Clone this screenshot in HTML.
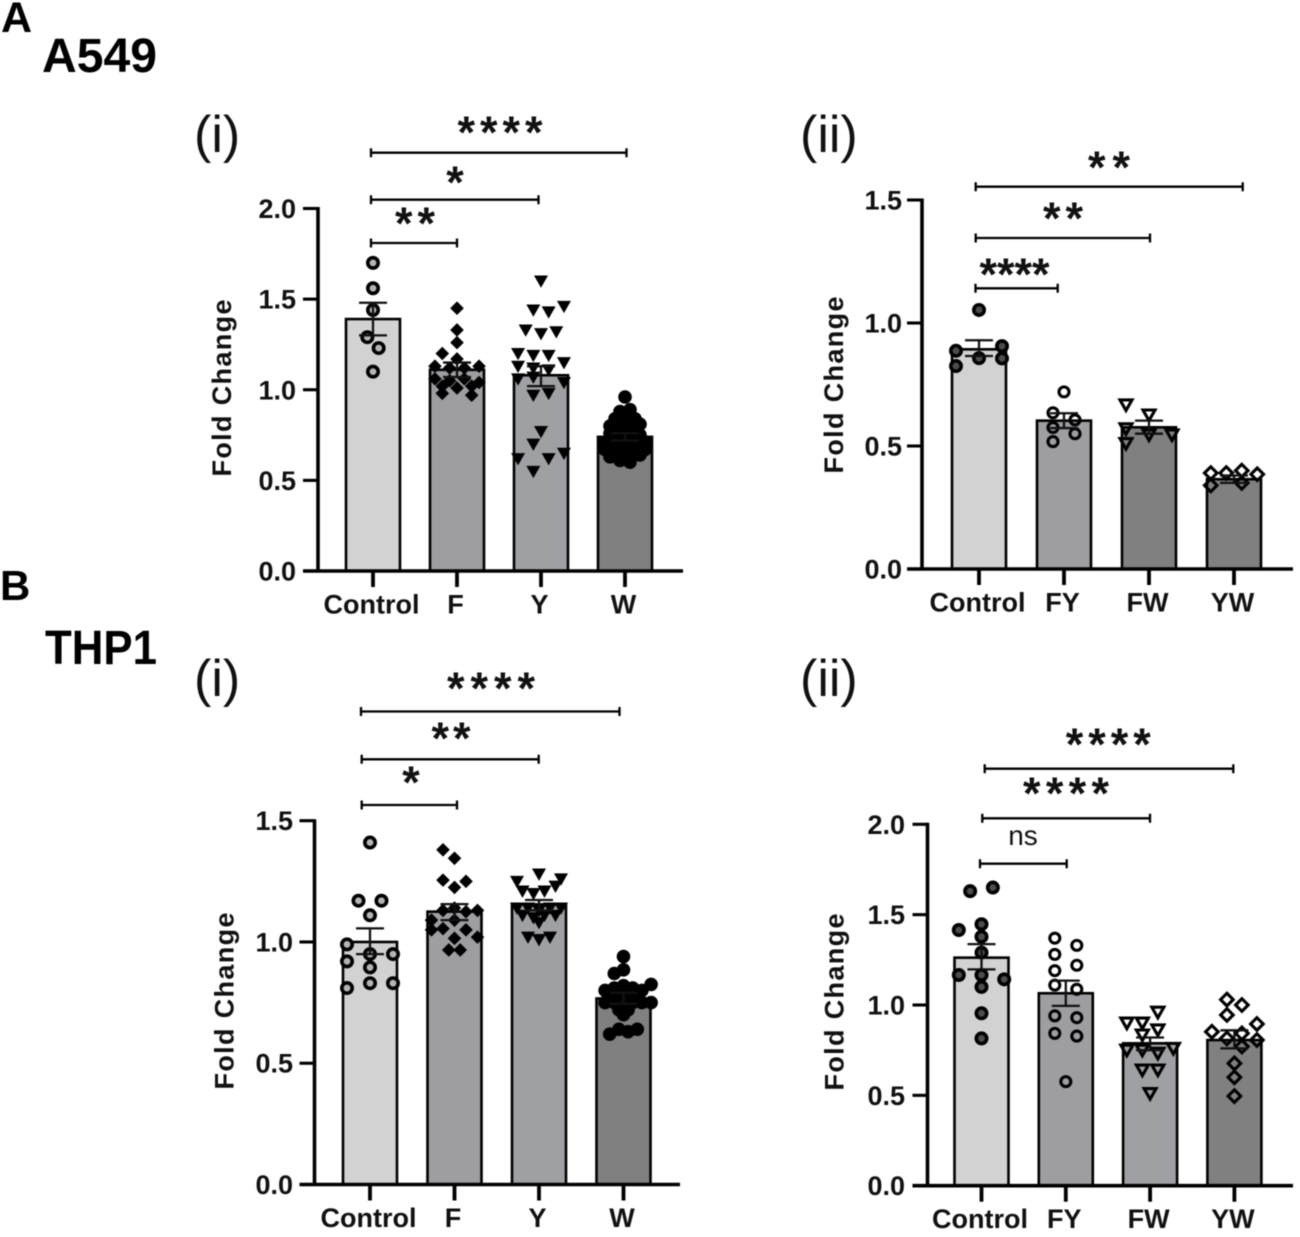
<!DOCTYPE html>
<html lang="en">
<head>
<meta charset="utf-8">
<title>Fold change in A549 and THP1 cells</title>
<style>
html,body{margin:0;padding:0;background:#fff;}
#figure{display:block;width:1300px;height:1237px;filter:blur(0.55px);font-family:"Liberation Sans",sans-serif;}
</style>
</head>
<body>
<svg id="figure" xmlns="http://www.w3.org/2000/svg" width="1300" height="1237" viewBox="0 0 1300 1237">
  <rect x="0" y="0" width="1300" height="1237" fill="#fff"/>
  <text x="1" y="32" font-size="43" font-weight="700" fill="#000">A</text>
  <text x="42" y="72" font-size="48" font-weight="700" fill="#000" textLength="115" lengthAdjust="spacingAndGlyphs">A549</text>
  <text x="0" y="600" font-size="42" font-weight="700" fill="#000">B</text>
  <text x="45" y="664" font-size="48" font-weight="700" fill="#000" textLength="112" lengthAdjust="spacingAndGlyphs">THP1</text>
  <text x="194" y="152" font-size="52" fill="#111">(i)</text>
  <text x="800" y="152" font-size="52" fill="#111">(ii)</text>
  <text x="194" y="696" font-size="52" fill="#111">(i)</text>
  <text x="800" y="696" font-size="52" fill="#111">(ii)</text>
</svg>
<script>
// ---------- A549 (i) ----------
const a1Categories = ['Control', 'F', 'Y', 'W'];
const a1YTicks = [0, 0.5, 1, 1.5, 2];
const a1YTickLabels = ['0.0', '0.5', '1.0', '1.5', '2.0'];
const a1Means = [1.39, 1.11, 1.08, 0.74];
const a1ErrHigh = [1.48, 1.15, 1.13, 0.76];
const a1ErrLow = [1.30, 1.07, 1.02, 0.72];
// Replicates: each inner array is one swarm row, read left to right (null = empty slot)
const a1Control = [[1.70], [1.56], [1.44], [1.29, 1.23], [1.10]];
const a1F = [[1.45], [1.33], [1.26], [1.20, 1.17, null], [1.13, 1.12, 1.12, 1.13], [1.06, 1.05, 1.06, 1.04], [1.02, 1.01, 1.02], [0.98, null, 0.97]];
const a1Y = [[1.60], [null, 1.44, 1.43, 1.46], [1.33, 1.31, 1.32], [1.20, 1.19, 1.19, null], [1.13, 1.12, 1.11, 1.15], [1.06, 1.07, null, 1.04], [null, 0.97, 0.98, null], [0.77], [0.70, null], [0.62, null, 0.62, 0.65], [0.55, null]];
const a1W = [[0.96], [0.88, 0.89], [0.84, 0.85, 0.84], [0.80, 0.81, 0.80, 0.81], [0.76, 0.75, 0.76, 0.75], [0.71, 0.72, 0.71, 0.72, 0.71], [0.67, 0.68, 0.67, 0.66, 0.67], [0.63, 0.62, 0.63, 0.64], [0.61, 0.60]];

// ---------- A549 (ii) ----------
const a2Categories = ['Control', 'FY', 'FW', 'YW'];
const a2YTicks = [0, 0.5, 1, 1.5];
const a2YTickLabels = ['0.0', '0.5', '1.0', '1.5'];
const a2Means = [0.893, 0.603, 0.576, 0.365];
const a2ErrHigh = [0.93, 0.633, 0.603, 0.38];
const a2ErrLow = [0.866, 0.573, 0.55, 0.35];
const a2Control = [[1.053], [0.887, null, 0.906], [null, 0.857, 0.856], [0.825, null, null]];
const a2FY = [[0.72], [0.635, 0.606], [0.575, 0.55], [0.518, null]];
const a2FW = [[0.667, null, null], [null, 0.626, null], [0.57, null, null], [null, 0.545, 0.545], [0.51, null, null]];
const a2YW = [[0.39, 0.39, 0.40, 0.385], [0.34, null, 0.35, null]];

// ---------- THP1 (i) ----------
const b1Categories = ['Control', 'F', 'Y', 'W'];
const b1YTicks = [0, 0.5, 1, 1.5];
const b1YTickLabels = ['0.0', '0.5', '1.0', '1.5'];
const b1Means = [1.0, 1.125, 1.155, 0.767];
const b1ErrHigh = [1.056, 1.156, 1.173, 0.79];
const b1ErrLow = [0.95, 1.09, 1.13, 0.745];
const b1Control = [[1.41], [1.17, 1.17], [1.11], [0.99, null, null], [null, 0.95, 0.95], [0.92, 0.895, null], [0.81, 0.83, 0.83]];
const b1F = [[1.38, null, null], [1.345], [1.255, null, 1.25], [1.225], [1.14], [null, 1.13, null, 1.125, 1.13], [1.09, null, 1.09, null, null], [1.05, 1.055, null, 1.05, null], [null, null, 1.015, null, 1.02], [0.967, 0.967]];
const b1Y = [[1.28], [1.25, null, null, null, 1.26], [1.21, 1.20, 1.21, 1.23], [1.14, 1.14, 1.13, 1.14, 1.14], [1.11, 1.10, 1.11, 1.11], [1.08], [1.02, 1.01, 1.02]];
const b1W = [[0.94], [0.87, 0.885, null], [null, 0.80, 0.81, 0.82, 0.81, 0.80, 0.825], [0.78, 0.78, 0.78], [null, 0.75, 0.75, 0.75, 0.75, 0.75, 0.75], [0.72, 0.72], [0.70], [0.62, 0.64, 0.63, 0.64]];

// ---------- THP1 (ii) ----------
const b2Categories = ['Control', 'FY', 'FW', 'YW'];
const b2YTicks = [0, 0.5, 1, 1.5, 2];
const b2YTickLabels = ['0.0', '0.5', '1.0', '1.5', '2.0'];
const b2Means = [1.262, 1.065, 0.788, 0.806];
const b2ErrHigh = [1.337, 1.135, 0.82, 0.86];
const b2ErrLow = [1.197, 0.995, 0.75, 0.76];
const b2Control = [[1.63, 1.65], [1.447], [1.415, null, null], [1.378], [1.29], [1.166, 1.166, 1.142], [1.10], [0.954], [0.815]];
const b2FY = [[1.37, 1.33], [1.28, 1.22], [1.19, null], [1.11, 1.087], [0.94, 0.93], [0.843, 0.828], [0.576]];
const b2FW = [[null, null, 0.96, null], [0.90, 0.90, null, null], [null, null, 0.862, null], [null, 0.834, null, null], [0.75, 0.75, 0.733, 0.76], [null, 0.64, 0.64, null], [0.51]];
const b2YW = [[null, 1.03, 1.0, null], [null, 0.945, null, null], [null, null, null, 0.895], [0.852, null, 0.843, null], [null, 0.815, null, 0.806], [null, null, 0.77, null], [0.677], [0.60], [0.496]];

// ---------- Panel layout (geometry and styling, separate from data) ----------
const panels = [
  { id: 'a-i', cats: a1Categories, ticks: a1YTicks, tickLabels: a1YTickLabels, means: a1Means, hi: a1ErrHigh, lo: a1ErrLow,
    series: [a1Control, a1F, a1Y, a1W], yMax: 2, axisX: 318, yZero: 571, yTop: 208.5, axisRight: 683, x0: 373, step: 84, labelEnd: 296, titleX: 231, titleY: 388,
    gaps: [11.3, 14.7, 15.3, 10], fills: ['#d2d2d2', '#9d9da2', '#9fa0a4', '#808080'],
    markers: ['circle-light', 'diamond-solid', 'tri-solid', 'circle-solid'],
    brackets: [{ a: 371, b: 626.5, y: 152.7, t: '****', cx: 500, cy: 127, w: 85 }, { a: 371, b: 538.5, y: 199.7, t: '*', cx: 455, cy: 177, w: 0 }, { a: 371, b: 457, y: 243, t: '**', cx: 415, cy: 218, w: 40 }] },
  { id: 'a-ii', cats: a2Categories, ticks: a2YTicks, tickLabels: a2YTickLabels, means: a2Means, hi: a2ErrHigh, lo: a2ErrLow,
    series: [a2Control, a2FY, a2FW, a2YW], yMax: 1.5, axisX: 922, yZero: 569, yTop: 200, axisRight: 1293, x0: 979, step: 85, labelEnd: 902, titleX: 843, titleY: 385,
    gaps: [23, 22, 23, 15.5], fills: ['#d2d2d2', '#9d9da2', '#808080', '#808080'],
    markers: ['circle-dark', 'circle-open', 'tri-open', 'diamond-open'],
    brackets: [{ a: 975.7, b: 1242.7, y: 186.7, t: '**', cx: 1109, cy: 162, w: 42 }, { a: 975.7, b: 1150, y: 238, t: '**', cx: 1063, cy: 213, w: 40 }, { a: 975.5, b: 1057.7, y: 288.3, t: '****', cx: 1014.5, cy: 269, w: 70 }] },
  { id: 'b-i', cats: b1Categories, ticks: b1YTicks, tickLabels: b1YTickLabels, means: b1Means, hi: b1ErrHigh, lo: b1ErrLow,
    series: [b1Control, b1F, b1Y, b1W], yMax: 1.5, axisX: 314.5, yZero: 1184.5, yTop: 820.7, axisRight: 680, x0: 370, step: 84.5, labelEnd: 293, titleX: 233.5, titleY: 1001,
    gaps: [23, 11.5, 11, 9.2], fills: ['#d2d2d2', '#9d9da2', '#9fa0a4', '#808080'],
    markers: ['circle-light', 'diamond-solid', 'tri-solid', 'circle-solid'],
    brackets: [{ a: 361, b: 619.5, y: 711.5, t: '****', cx: 491, cy: 683, w: 88 }, { a: 361.7, b: 538.7, y: 759.3, t: '**', cx: 451, cy: 733, w: 39 }, { a: 361.7, b: 457, y: 805, t: '*', cx: 411, cy: 777, w: 0 }] },
  { id: 'b-ii', cats: b2Categories, ticks: b2YTicks, tickLabels: b2YTickLabels, means: b2Means, hi: b2ErrHigh, lo: b2ErrLow,
    series: [b2Control, b2FY, b2FW, b2YW], yMax: 2, axisX: 927.5, yZero: 1185.7, yTop: 824.3, axisRight: 1293, x0: 981.5, step: 84.3, labelEnd: 905, titleX: 843.5, titleY: 1002,
    gaps: [22.7, 22, 15.5, 15], fills: ['#d2d2d2', '#9d9da2', '#9fa0a4', '#808080'],
    markers: ['circle-dark', 'circle-open', 'tri-open', 'diamond-open'],
    brackets: [{ a: 984.7, b: 1233.3, y: 768.7, t: '****', cx: 1108.3, cy: 739, w: 85 }, { a: 982.3, b: 1150, y: 818.3, t: '****', cx: 1066, cy: 788, w: 86 }, { a: 980, b: 1066.7, y: 863.7, t: 'ns', cx: 1023, cy: 845, w: 0 }] }
];

const NS = 'http://www.w3.org/2000/svg';
const root = document.getElementById('figure');

function mk(tag, attrs, parent, text) {
  const el = document.createElementNS(NS, tag);
  for (const k in attrs) el.setAttribute(k, attrs[k]);
  if (text !== undefined) el.textContent = text;
  parent.appendChild(el);
  return el;
}

function drawMarker(kind, x, y, parent) {
  if (kind === 'circle-light' || kind === 'circle-dark') {
    return mk('circle', { cx: x, cy: y, r: 5.2, fill: kind === 'circle-light' ? '#b4b4b4' : '#4c4c4c', stroke: '#000', 'stroke-width': 3.6 }, parent);
  }
  if (kind === 'circle-solid') return mk('circle', { cx: x, cy: y, r: 6.8, fill: '#000' }, parent);
  if (kind === 'circle-open') return mk('circle', { cx: x, cy: y, r: 5, fill: 'none', stroke: '#000', 'stroke-width': 3.1 }, parent);
  if (kind === 'diamond-solid') return mk('path', { d: `M${x} ${y - 6.8}L${x + 6.8} ${y}L${x} ${y + 6.8}L${x - 6.8} ${y}Z`, fill: '#000' }, parent);
  if (kind === 'diamond-open') return mk('path', { d: `M${x} ${y - 6.3}L${x + 6.3} ${y}L${x} ${y + 6.3}L${x - 6.3} ${y}Z`, fill: 'none', stroke: '#000', 'stroke-width': 3.1 }, parent);
  if (kind === 'tri-solid') return mk('path', { d: `M${x - 7} ${y - 5.5}L${x + 7} ${y - 5.5}L${x} ${y + 6.8}Z`, fill: '#000' }, parent);
  return mk('path', { d: `M${x - 6} ${y - 5}L${x + 6} ${y - 5}L${x} ${y + 5.6}Z`, fill: 'none', stroke: '#000', 'stroke-width': 3.1 }, parent);
}

panels.forEach(function (p) {
  const g = mk('g', {}, root);
  
  

  const yScale = function (v) { return p.yZero - (v / p.yMax) * (p.yZero - p.yTop); };
  const xScale = function (i) { return p.x0 + i * p.step; };
  const barW = 54;

  // Bars
  p.means.forEach(function (m, i) {
    const bar = mk('rect', { x: xScale(i) - barW / 2, y: yScale(m), width: barW, height: p.yZero - yScale(m), fill: p.fills[i], stroke: '#000', 'stroke-width': 2.6 }, g);
    
    
  });

  // Replicate points, spread across swarm rows
  p.series.forEach(function (rows, i) {
    const group = mk('g', {}, g);
    
    
    rows.forEach(function (row) {
      row.forEach(function (v, slot) {
        if (v === null) return;
        const x = xScale(i) + (slot - (row.length - 1) / 2) * p.gaps[i];
        const pt = drawMarker(p.markers[i], x, yScale(v), group);
        
        
      });
    });
  });

  // Error bars
  p.means.forEach(function (m, i) {
    const x = xScale(i);
    const err = mk('path', { d: `M${x} ${yScale(p.hi[i])}V${yScale(p.lo[i])}M${x - 14} ${yScale(p.hi[i])}H${x + 14}M${x - 14} ${yScale(p.lo[i])}H${x + 14}`, fill: 'none', stroke: '#111', 'stroke-width': 2.3 }, g);
    
    
  });

  // Axes
  const yAxis = mk('line', { x1: p.axisX, x2: p.axisX, y1: p.yTop - 1.5, y2: p.yZero + 1.5, stroke: '#000', 'stroke-width': 3.6 }, g);
  
  
  const xAxis = mk('line', { x1: p.axisX - 15, x2: p.axisRight, y1: p.yZero, y2: p.yZero, stroke: '#000', 'stroke-width': 3.6 }, g);
  
  

  p.ticks.forEach(function (t, i) {
    const tick = mk('line', { x1: p.axisX - 15, x2: p.axisX, y1: yScale(t), y2: yScale(t), stroke: '#000', 'stroke-width': 3.1 }, g);
    
    
    const lab = mk('text', { x: p.labelEnd, y: yScale(t) + 9.5, 'text-anchor': 'end', 'font-size': 27, 'font-weight': 700, fill: '#111' }, g, p.tickLabels[i]);
    
    
  });

  p.cats.forEach(function (c, i) {
    const tick = mk('line', { x1: xScale(i), x2: xScale(i), y1: p.yZero, y2: p.yZero + 16, stroke: '#000', 'stroke-width': 3.8 }, g);
    
    
    const lab = mk('text', { x: xScale(i) - 1.5, y: p.yZero + 42.5, 'text-anchor': 'middle', 'font-size': 27, 'font-weight': 700, fill: '#111' }, g, c);
    
    
  });

  const title = mk('text', { x: 0, y: 0, transform: `translate(${p.titleX} ${p.titleY}) rotate(-90)`, 'text-anchor': 'middle', 'font-size': 27, 'font-weight': 700, fill: '#111', textLength: 177, lengthAdjust: 'spacing' }, g, 'Fold Change');
  
  

  // Significance brackets
  p.brackets.forEach(function (b) {
    const br = mk('path', { d: `M${b.a} ${b.y - 4.5}V${b.y + 4.5}M${b.a} ${b.y}H${b.b}M${b.b} ${b.y - 4.5}V${b.y + 4.5}`, fill: 'none', stroke: '#000', 'stroke-width': 2.3 }, g);
    
    
    let label;
    if (b.t === 'ns') {
      label = mk('text', { x: b.cx, y: b.cy, 'text-anchor': 'middle', 'font-size': 28, fill: '#111' }, g, b.t);
    } else {
      const attrs = { x: b.cx, y: b.cy + 21, 'text-anchor': 'middle', 'font-size': 45, 'font-weight': 700, fill: '#111' };
      if (b.w) { attrs.textLength = b.w; attrs.lengthAdjust = 'spacing'; }
      label = mk('text', attrs, g, b.t);
    }
    
    
  });
});
</script>
</body>
</html>
